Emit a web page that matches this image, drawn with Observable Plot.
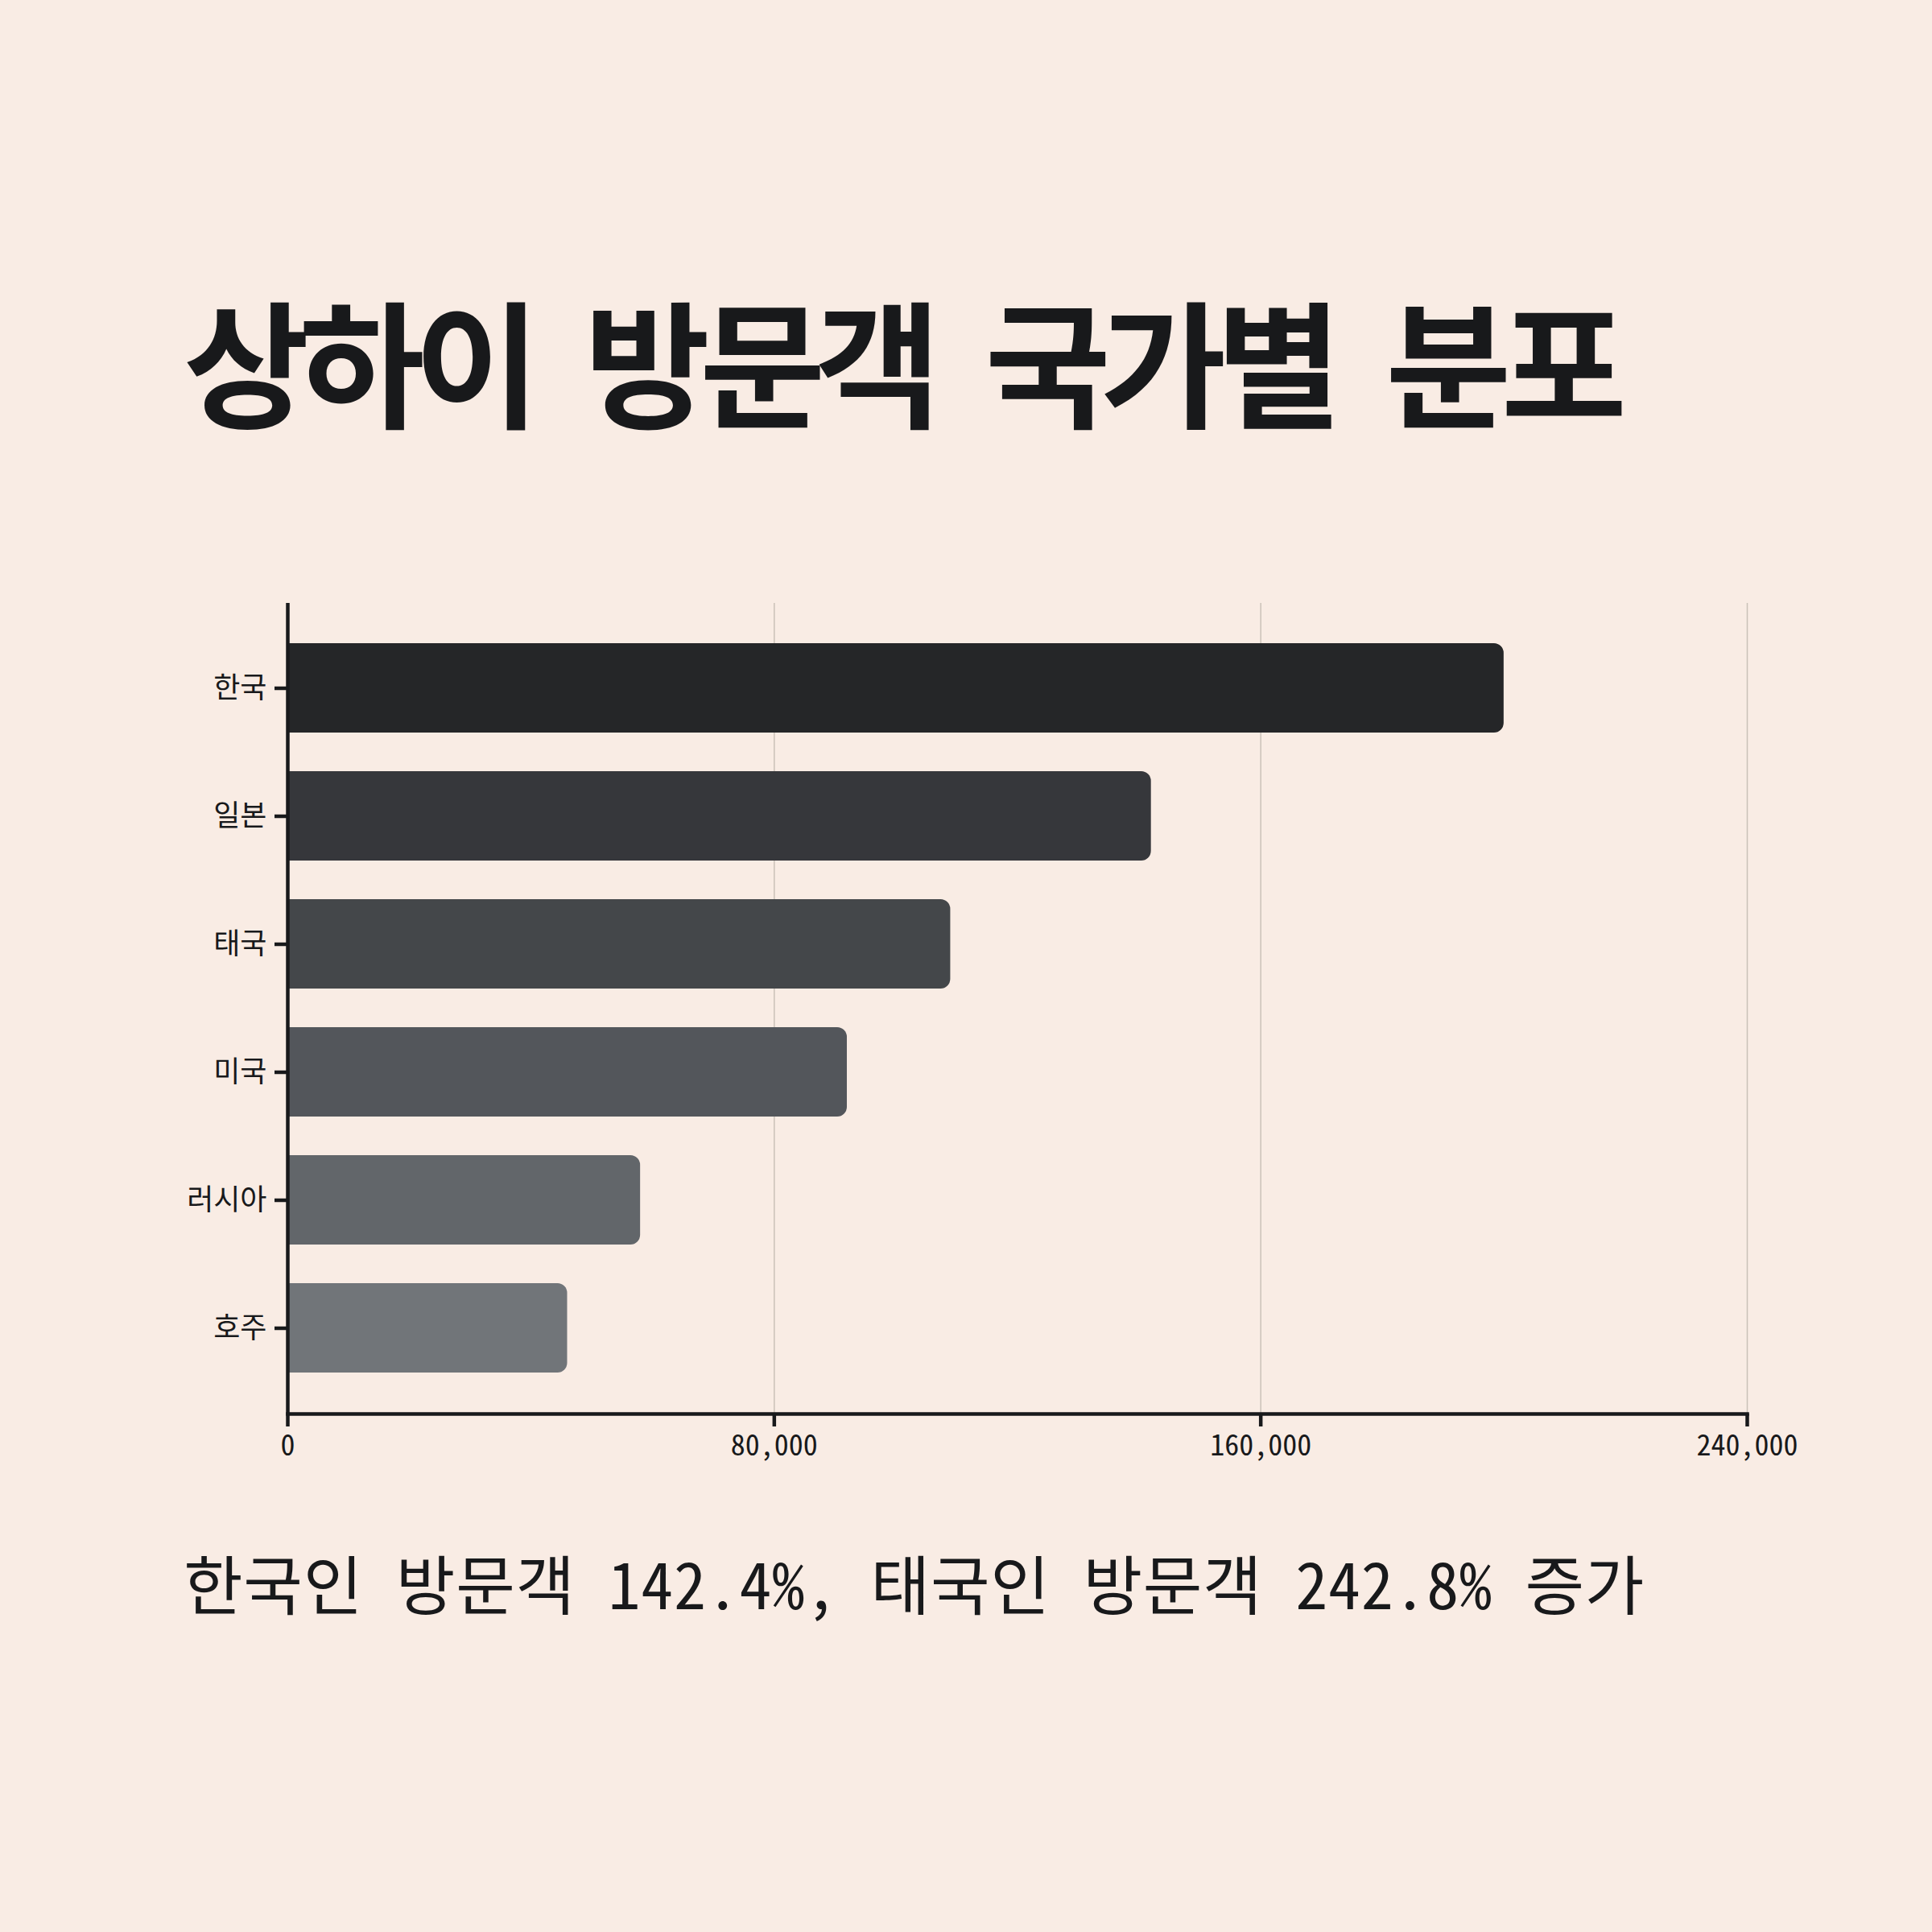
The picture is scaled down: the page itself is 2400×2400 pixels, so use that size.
<!DOCTYPE html>
<html>
<head>
<meta charset="utf-8">
<script src="https://cdn.jsdelivr.net/npm/d3@7"></script>
<script src="https://cdn.jsdelivr.net/npm/@observablehq/plot@0.6"></script>
<style>
  html, body { margin: 0; padding: 0; background: #f9ece4; }
  #page { position: relative; width: 2400px; height: 2400px; background: #f9ece4; overflow: hidden; }
  #title { position: absolute; left: 228px; top: 360px; margin: 0; font-family: "Noto Sans CJK KR", "Noto Sans Mono CJK KR", sans-serif; font-weight: 700; font-size: 170px; line-height: 1; letter-spacing: -13px; word-spacing: 42px; color: #18191b; white-space: nowrap; }
  #caption { position: absolute; left: 228px; top: 1924px; margin: 0; font-family: "Noto Sans Mono CJK KR", "Noto Sans CJK KR", monospace; font-weight: 400; font-size: 80px; line-height: 1; letter-spacing: 0.75px; color: #18191b; white-space: nowrap; }
  #chart { position: absolute; left: 0; top: 680px; }
</style>
</head>
<body>
<div id="page">
  <div id="title"></div>
  <div id="chart"></div>
  <div id="caption"></div>
</div>
<script>
const titleText = "상하이 방문객 국가별 분포";
const captionText = "한국인 방문객 142.4%, 태국인 방문객 242.8% 증가";
const countries = ["한국", "일본", "태국", "미국", "러시아", "호주"];
const visitors = [200000, 142000, 109000, 92000, 58000, 46000];
const barColors = ["#252628", "#36373b", "#44474a", "#53565b", "#62666a", "#717579"];
const xTicks = [0, 80000, 160000, 240000];

document.getElementById("title").textContent = titleText;
document.getElementById("caption").textContent = captionText;

const data = countries.map((c, i) => ({country: c, visitors: visitors[i], color: barColors[i]}));

const chart = Plot.plot({
  width: 2400,
  height: 1156,
  marginTop: 69,
  marginBottom: 80,
  marginLeft: 357,
  marginRight: 230,
  style: {
    background: "transparent",
    fontFamily: "'Noto Sans Mono CJK KR', 'Noto Sans CJK KR', monospace",
    fontSize: "36px",
    color: "#18191b",
    overflow: "visible"
  },
  x: {domain: [0, 240000]},
  y: {domain: countries, padding: 0.3},
  marks: [
    Plot.ruleX(xTicks.slice(1), {stroke: "#cac1b8", strokeWidth: 1.5}),
    Plot.barX(data, {x: "visitors", y: "country", fill: "color", rx2: 12}),
    Plot.ruleX([0], {stroke: "#18191b", strokeWidth: 4.5}),
    Plot.frame({anchor: "bottom", stroke: "#18191b", strokeWidth: 4.5}),
    Plot.axisY({tickSize: 16, tickPadding: 10, strokeWidth: 4.5, label: null, fill: "#18191b", stroke: "#18191b"}),
    Plot.axisX({ticks: xTicks, tickSize: 16, tickPadding: 10, strokeWidth: 4.5, tickFormat: d3.format(","), label: null, fill: "#18191b", stroke: "#18191b"})
  ]
});
document.getElementById("chart").appendChild(chart);
</script>
</body>
</html>
